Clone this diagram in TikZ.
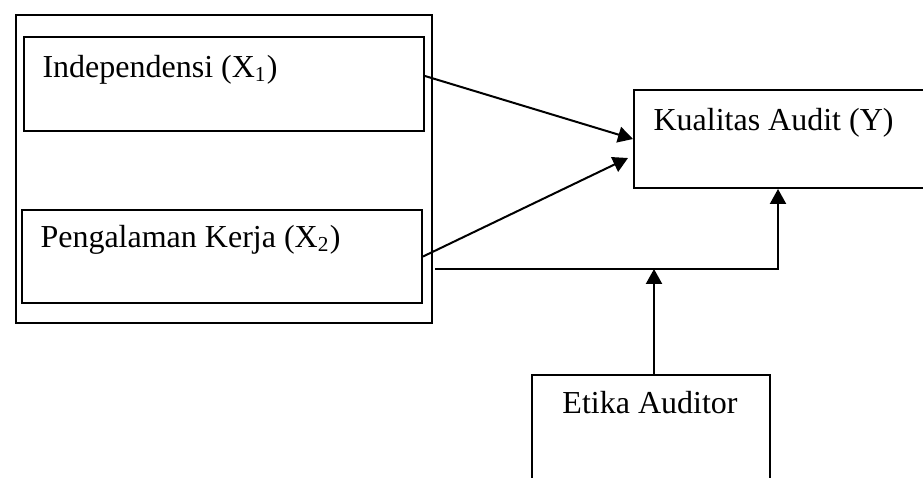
\documentclass[tikz,border=0pt,12pt]{standalone}
\usepackage{fontspec}
\setmainfont{Liberation Serif}
\usetikzlibrary{arrows.meta,positioning,calc}
\tikzset{
  kotak/.style={draw=black,line width=0.75pt,rectangle,inner sep=0pt,anchor=north west},
  teks/.style={inner sep=0pt,anchor=base west,font=\fontsize{12}{14}\selectfont},
  panah/.style={-{Triangle[length=5.6pt,width=6pt]},line width=0.75pt},
}

\begin{document}
\begin{tikzpicture}[x=0.375pt,y=-0.375pt]
  \path[use as bounding box] (0,0) rectangle (923,477);
  \clip (0,0) rectangle (923,477);
  % kotak variabel
  \node[kotak,minimum width=156pt,minimum height=115.5pt] (luar) at (15,14) {};
  \node[kotak,minimum width=150pt,minimum height=35.25pt] (x1) at (23,36) {};
  \node[kotak,minimum width=150pt,minimum height=34.875pt] (x2) at (21,209) {};
  \node[kotak,minimum width=113.25pt,minimum height=36.75pt] (y) at (633,89) {};
  \node[kotak,minimum width=89.25pt,minimum height=52.5pt] (etika) at (531,374) {};
  \node[teks] (tx1) at ($(x1.north west)+(19,41)$) {Independensi (X\textsubscript{1})};
  \node[teks] (tx2) at ($(x2.north west)+(19,38)$) {Pengalaman Kerja (X\textsubscript{2})};
  \node[teks] (ty) at ($(y.north west)+(20,41)$) {Kualitas Audit (Y)};
  \node[teks,anchor=base] (tetika) at ($(etika.north)+(-1,39)$) {Etika Auditor};
  % titik bantu
  \coordinate (awal) at (435,269);
  \coordinate (sudut) at ($(y.south west)+(145,0)$);
  \coordinate (atas) at ($(etika.north)+(3,0)$);
  \coordinate (temu) at (atas |- awal);
  % hubungan
  \draw[panah] ($(x1.north east)+(0,40)$) -- (y.west);
  \draw[panah] (x2.east) -- ($(y.west)+(-5,19)$);
  \draw[panah] (awal) -- (sudut |- awal) -- (sudut);
  \draw[panah] (atas) -- (temu);
\end{tikzpicture}
\end{document}
